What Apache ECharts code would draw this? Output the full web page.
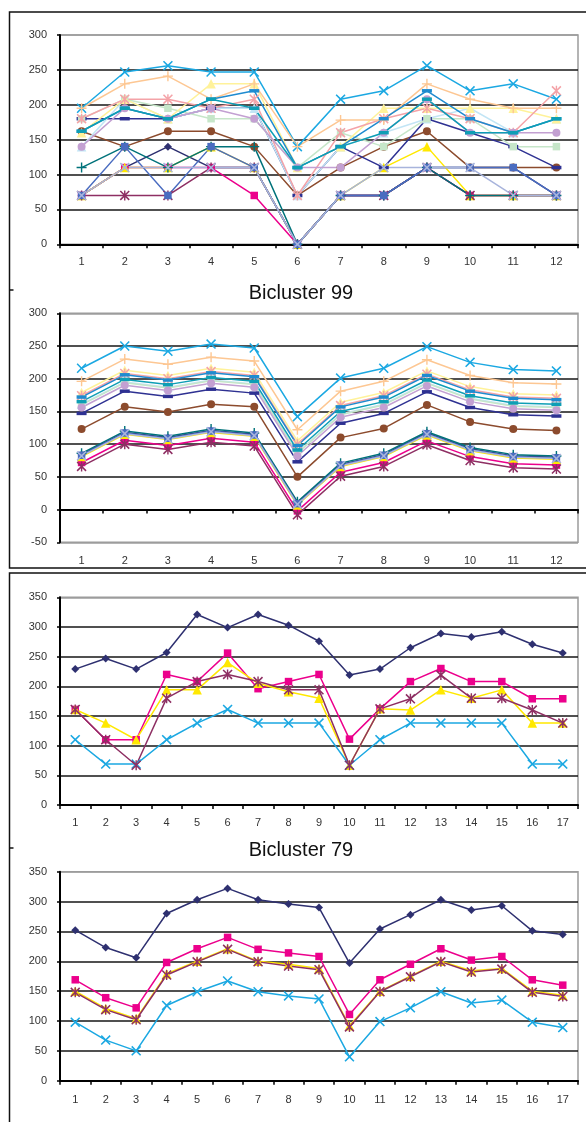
<!DOCTYPE html>
<html>
<head>
<meta charset="utf-8">
<script src="https://cdn.jsdelivr.net/npm/echarts@6/dist/echarts.min.js"></script>
<style>
  html, body { margin: 0; padding: 0; background: #ffffff; }
  #chart { width: 586px; height: 1122px; }
</style>
</head>
<body>
<div id="chart"></div>
<script>
// ---- categories ----
const cols12 = ['1','2','3','4','5','6','7','8','9','10','11','12'];
const cols17 = ['1','2','3','4','5','6','7','8','9','10','11','12','13','14','15','16','17'];

// ---- Bicluster 99, observed expression levels ----
const raw99_navyDiamond  = [70,110,140,110,110,0,70,70,110,110,110,70];
const raw99_magenta      = [70,110,110,110,70,0,70,70,110,70,70,70];
const raw99_yellow       = [70,110,110,140,110,0,70,110,140,70,70,70];
const raw99_skyX         = [195,247,256,247,247,140,208,220,256,220,230,208];
const raw99_maroonStar   = [70,70,70,110,110,0,70,70,110,70,70,70];
const raw99_brownCircle  = [162,140,162,162,140,70,110,140,162,110,110,110];
const raw99_tealPlus     = [110,140,110,140,140,0,70,70,110,70,70,70];
const raw99_navyDash     = [180,180,180,195,195,70,140,110,180,160,140,110];
const raw99_periwinkle   = [70,140,70,140,110,0,70,70,110,110,110,70];
const raw99_paleCyan     = [140,208,180,195,195,70,140,160,180,195,160,180];
const raw99_paleGreen    = [180,208,195,180,180,110,160,140,180,180,140,140];
const raw99_paleYellow   = [160,208,180,230,230,110,140,195,195,195,195,180];
const raw99_greyBlueX    = [70,110,110,110,110,0,70,110,110,110,70,70];
const raw99_roseStar     = [180,208,208,195,208,70,160,180,195,180,160,220];
const raw99_lilacCircle  = [140,195,180,195,180,110,110,160,208,160,160,160];
const raw99_tanPlus      = [195,230,241,208,230,140,178,178,230,208,195,195];
const raw99_blueDash     = [162,195,180,208,220,110,140,180,220,180,160,180];
const raw99_tealDash     = [162,195,180,208,195,110,140,160,208,160,160,180];

// ---- Bicluster 99, fitted profiles ----
const fit99_navyDiamond  = [84,118,110,121,115,10,69,84,117,93,82,80];
const fit99_magenta      = [72,106,98,109,103,-2,57,72,105,81,70,68];
const fit99_yellow       = [81,115,107,118,112,7,66,81,114,90,79,77];
const fit99_skyX         = [216,250,242,253,247,142,201,216,249,225,214,212];
const fit99_maroonStar   = [66,100,92,103,97,-8,51,66,99,75,64,62];
const fit99_brownCircle  = [123,157,149,161,157,50,110,124,160,134,123,121];
const fit99_tealPlus     = [86,120,112,123,117,12,71,86,119,95,84,82];
const fit99_navyDash     = [147,181,173,184,178,73,132,147,180,156,145,143];
const fit99_periwinkle   = [83,117,109,120,114,9,68,83,116,92,81,79];
const fit99_paleCyan     = [161,195,187,198,192,87,146,161,194,170,159,157];
const fit99_paleGreen    = [160,194,186,197,191,86,145,160,193,169,158,156];
const fit99_paleYellow   = [179,213,205,216,210,105,164,179,212,188,177,175];
const fit99_greyBlueX    = [82,116,108,119,113,8,67,82,115,91,80,78];
const fit99_roseStar     = [174,208,200,211,205,100,159,174,207,183,172,170];
const fit99_lilacCircle  = [156,190,182,193,187,82,141,156,189,165,154,152];
const fit99_tanPlus      = [196,230,222,233,227,122,181,196,229,205,194,192];
const fit99_blueDash     = [172,206,198,209,203,98,157,172,205,181,170,168];
const fit99_tealDash     = [165,199,191,202,196,91,150,165,198,174,163,161];

// ---- Bicluster 79, observed ----
const raw79_navyDiamond = [229,247,229,257,321,299,321,303,276,219,229,265,289,283,292,271,256];
const raw79_magenta     = [161,110,110,220,208,256,196,208,220,111,162,208,230,208,208,179,179];
const raw79_yellow      = [161,138,110,194,194,240,205,191,180,67,162,160,194,180,194,138,138];
const raw79_skyX        = [110,69,69,110,138,161,138,138,138,67,110,138,138,138,138,69,69];
const raw79_maroonStar  = [161,110,67,180,208,220,208,194,194,67,162,179,219,180,180,160,138];

// ---- Bicluster 79, fitted ----
const fit79_navyDiamond = [252,223,206,280,303,322,303,296,290,197,254,278,303,286,293,251,245];
const fit79_magenta     = [169,139,122,198,221,240,220,214,208,111,169,195,221,202,208,169,160];
const fit79_yellow      = [150,121,104,179,200,221,200,195,188,92,150,175,200,184,188,150,143];
const fit79_skyX        = [98,68,50,126,149,167,149,142,137,40,99,122,149,130,135,98,89];
const fit79_maroonStar  = [148,119,102,177,199,220,199,192,186,90,149,174,199,182,187,148,141];

// ---- y-axis tick ranges ----
const yTicks99 = { min: 0, max: 300, step: 50 };
const yTicks99fit = { min: -50, max: 300, step: 50 };
const yTicks79 = { min: 0, max: 350, step: 50 };

// ---- marker shapes ----
const SYM = {
  diamond: 'diamond',
  square: 'rect',
  triangle: 'triangle',
  circle: 'circle',
  x: 'path://M0,1.1 L1.1,0 L5,3.9 L8.9,0 L10,1.1 L6.1,5 L10,8.9 L8.9,10 L5,6.1 L1.1,10 L0,8.9 L3.9,5 Z',
  star: 'path://M0,1.1 L1.1,0 L10,8.9 L8.9,10 Z M8.9,0 L10,1.1 L1.1,10 L0,8.9 Z M4.3,0 L5.7,0 L5.7,10 L4.3,10 Z',
  plus: 'path://M4.3,0 L5.7,0 L5.7,4.3 L10,4.3 L10,5.7 L5.7,5.7 L5.7,10 L4.3,10 L4.3,5.7 L0,5.7 L0,4.3 L4.3,4.3 Z',
  dash: 'rect'
};
const SIZE = { diamond: 8, square: 7.5, triangle: 9.5, circle: 8, x: 10, star: 10, plus: 10, dash: [10, 3.5] };

// row styles (drawing order = list order)
const rows99 = [
  { color: '#2e3070', mark: 'diamond',  raw: raw99_navyDiamond, fit: fit99_navyDiamond },
  { color: '#ec008c', mark: 'square',   raw: raw99_magenta,     fit: fit99_magenta },
  { color: '#ffe800', mark: 'triangle', raw: raw99_yellow,      fit: fit99_yellow },
  { color: '#1ba8e2', mark: 'x',        raw: raw99_skyX,        fit: fit99_skyX },
  { color: '#8e2f63', mark: 'star',     raw: raw99_maroonStar,  fit: fit99_maroonStar },
  { color: '#8c4b2d', mark: 'circle',   raw: raw99_brownCircle, fit: fit99_brownCircle },
  { color: '#00727a', mark: 'plus',     raw: raw99_tealPlus,    fit: fit99_tealPlus },
  { color: '#2e3192', mark: 'dash',     raw: raw99_navyDash,    fit: fit99_navyDash },
  { color: '#4a6cc0', mark: 'square',   raw: raw99_periwinkle,  fit: fit99_periwinkle },
  { color: '#c2e5f5', mark: 'triangle', raw: raw99_paleCyan,    fit: fit99_paleCyan },
  { color: '#c6e6c9', mark: 'square',   raw: raw99_paleGreen,   fit: fit99_paleGreen },
  { color: '#fff29a', mark: 'triangle', raw: raw99_paleYellow,  fit: fit99_paleYellow },
  { color: '#a8b4dc', mark: 'x',        raw: raw99_greyBlueX,   fit: fit99_greyBlueX },
  { color: '#f4a3a8', mark: 'star',     raw: raw99_roseStar,    fit: fit99_roseStar },
  { color: '#c3a0d2', mark: 'circle',   raw: raw99_lilacCircle, fit: fit99_lilacCircle },
  { color: '#fdc793', mark: 'plus',     raw: raw99_tanPlus,     fit: fit99_tanPlus },
  { color: '#1f8bd0', mark: 'dash',     raw: raw99_blueDash,    fit: fit99_blueDash },
  { color: '#0e9eb5', mark: 'dash',     raw: raw99_tealDash,    fit: fit99_tealDash }
];
const rows79 = [
  { color: '#2e3070', mark: 'diamond',  raw: raw79_navyDiamond, fit: fit79_navyDiamond },
  { color: '#ec008c', mark: 'square',   raw: raw79_magenta,     fit: fit79_magenta },
  { color: '#ffe800', mark: 'triangle', raw: raw79_yellow,      fit: fit79_yellow },
  { color: '#1ba8e2', mark: 'x',        raw: raw79_skyX,        fit: fit79_skyX },
  { color: '#8e2f63', mark: 'star',     raw: raw79_maroonStar,  fit: fit79_maroonStar }
];

const FONT = '"Liberation Sans", Arial, sans-serif';
const GRID_LINE = '#161616';
const FRAME_GREY = '#9c9c9c';

// panel geometry
const grids = [
  { left: 60, top: 35,    width: 518, height: 209.3 },
  { left: 60, top: 313.3, width: 518, height: 229 },
  { left: 60, top: 597.3, width: 518, height: 207.7 },
  { left: 60, top: 871.7, width: 518, height: 209 }
];

function splitColors(t) {
  const n = Math.round((t.max - t.min) / t.step) + 1;
  const arr = [];
  for (let i = 0; i < n; i++) arr.push(GRID_LINE);
  arr[n - 1] = FRAME_GREY;
  if (t.min < 0) arr[0] = FRAME_GREY;
  return arr;
}

function yAxis(idx, t) {
  return {
    type: 'value', gridIndex: idx, min: t.min, max: t.max, interval: t.step,
    axisLine: { show: true, lineStyle: { color: '#000', width: 2 } },
    axisTick: { show: true, inside: false, length: 3, lineStyle: { color: '#000', width: 1.5 } },
    axisLabel: { color: '#333', fontSize: 11, fontFamily: FONT, margin: 13 },
    splitLine: { show: true, lineStyle: { color: splitColors(t), width: 1.5 } }
  };
}
function xAxis(idx, cats, margin) {
  return {
    type: 'category', gridIndex: idx, data: cats, boundaryGap: true,
    axisLine: { show: true, onZero: true, lineStyle: { color: '#000', width: 2 } },
    axisTick: { show: true, inside: false, length: 4, lineStyle: { color: '#000', width: 1.5 } },
    axisLabel: { color: '#333', fontSize: 11, fontFamily: FONT, margin: margin, interval: 0 },
    splitLine: { show: false }
  };
}
function lineSeries(row, data, idx) {
  return {
    type: 'line', xAxisIndex: idx, yAxisIndex: idx, data: data,
    symbol: SYM[row.mark], symbolSize: SIZE[row.mark], showSymbol: true,
    lineStyle: { color: row.color, width: 1.5 },
    itemStyle: { color: row.color, borderWidth: 0 },
    emphasis: { disabled: true }, silent: true, z: 3
  };
}

const series = [];
rows99.forEach(r => series.push(lineSeries(r, r.raw, 0)));
rows99.forEach(r => series.push(lineSeries(r, r.fit, 1)));
rows79.forEach(r => series.push(lineSeries(r, r.raw, 2)));
rows79.forEach(r => series.push(lineSeries(r, r.fit, 3)));

const frameStyle = { fill: 'none', stroke: '#111', lineWidth: 1.5 };
const option = {
  animation: false,
  backgroundColor: '#ffffff',
  grid: grids.map(g => Object.assign({ show: true, borderColor: FRAME_GREY, borderWidth: 1.5, backgroundColor: 'transparent' }, g)),
  xAxis: [xAxis(0, cols12, 12), xAxis(1, cols12, 13), xAxis(2, cols17, 12), xAxis(3, cols17, 14)],
  yAxis: [yAxis(0, yTicks99), yAxis(1, yTicks99fit), yAxis(2, yTicks79), yAxis(3, yTicks79)],
  series: series,
  graphic: [
    // outer frames around each pair of panels
    { type: 'rect', shape: { x: 9.5, y: 12, width: 620, height: 556 }, style: frameStyle, silent: true },
    { type: 'rect', shape: { x: 9.5, y: 573, width: 620, height: 620 }, style: frameStyle, silent: true },
    // small handle marks on the frames
    { type: 'line', shape: { x1: 9.5, y1: 290, x2: 13.5, y2: 290 }, style: { stroke: '#111', lineWidth: 1.5 }, silent: true },
    { type: 'line', shape: { x1: 9.5, y1: 848, x2: 13.5, y2: 848 }, style: { stroke: '#111', lineWidth: 1.5 }, silent: true },
    // panel titles
    { type: 'text', x: 301, y: 293, style: { text: 'Bicluster 99', fill: '#111', font: '20px ' + FONT, textAlign: 'center', textVerticalAlign: 'middle' }, silent: true },
    { type: 'text', x: 301, y: 850, style: { text: 'Bicluster 79', fill: '#111', font: '20px ' + FONT, textAlign: 'center', textVerticalAlign: 'middle' }, silent: true }
  ]
};

const chart = echarts.init(document.getElementById('chart'), null, { renderer: 'canvas' });
chart.setOption(option);
</script>
</body>
</html>
